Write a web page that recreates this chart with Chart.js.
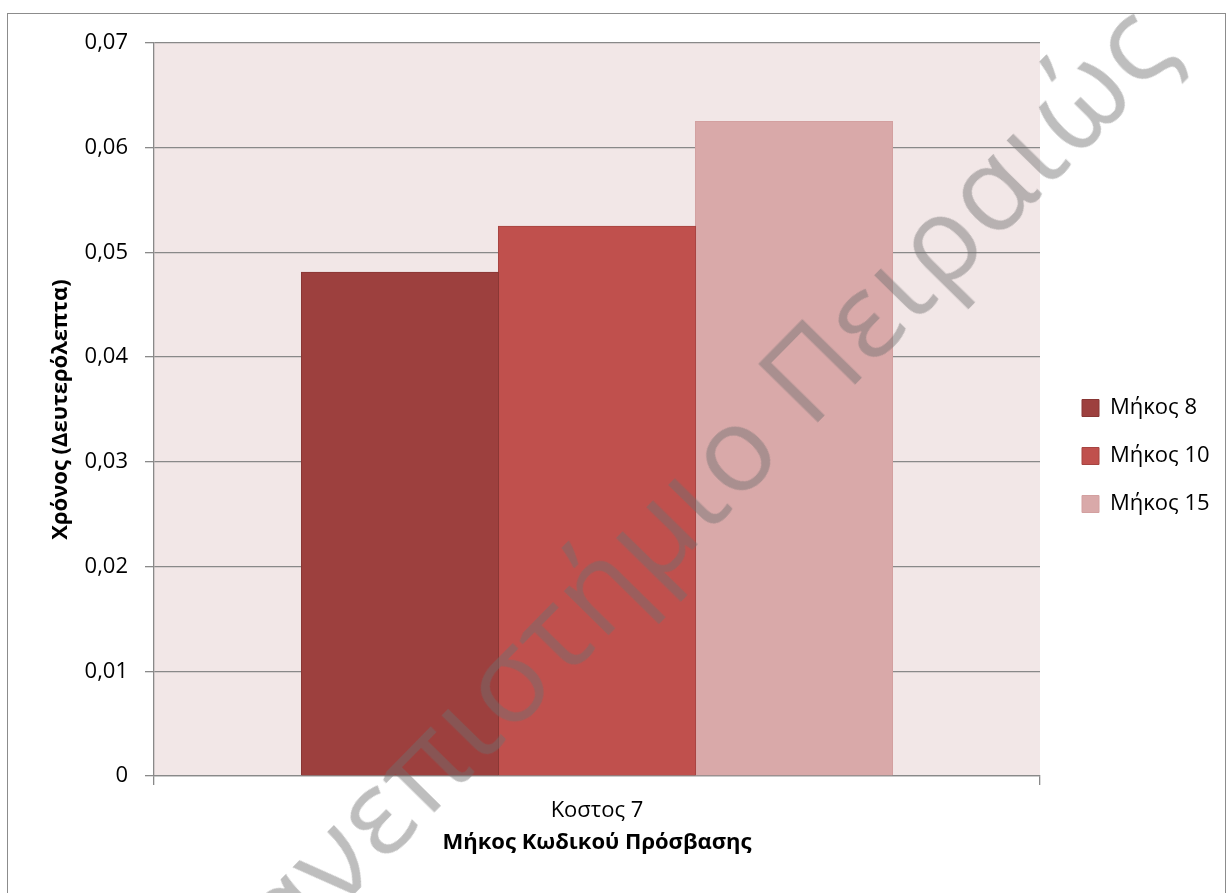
<!DOCTYPE html>
<html lang="el">
<head>
<meta charset="utf-8">
<title>Χρόνος ανά μήκος κωδικού</title>
<script src="https://cdn.jsdelivr.net/npm/chart.js@4.4.1/dist/chart.umd.min.js"></script>
<style>
    html, body { margin: 0; padding: 0; background: #fff; }
    body { width: 1227px; height: 893px; position: relative; overflow: hidden; }
    #frame {
        position: absolute; left: 7px; top: 13px; width: 1219px; height: 900px;
        border: 1.5px solid #8c8c8c; box-sizing: border-box;
    }
    #wrap { position: absolute; left: 0; top: 0; width: 1227px; height: 893px; }
    #mark {
        position: absolute; left: 670px; top: 508px;
        transform: translate(-50%, -50%) rotate(-45.5deg);
        font-family: 'Open Sans', sans-serif; font-size: 118px; letter-spacing: 2px; white-space: nowrap;
        color: rgba(110, 110, 110, 0.45); pointer-events: none;
    }
</style>
</head>
<body>
<div id="frame"></div>
<div id="wrap"><canvas id="chart" width="1227" height="893"></canvas></div>
<div id="mark">Πανεπιστήμιο Πειραιώς</div>

<script>
// data
const categories = ['Κοστος 7'];
const len8 = [0.0481];
const len10 = [0.0525];
const len15 = [0.0625];
const seriesNames = ['Μήκος 8', 'Μήκος 10', 'Μήκος 15'];
const yTicks = [0, 0.01, 0.02, 0.03, 0.04, 0.05, 0.06, 0.07];

const gridGray = '#898989';
const font = 'Open Sans';
const legendFontSize = 22;
const legendBox = 17;
const legendPad = 26;

// width the legend will ask for, so the plot ends where it should
const meas = document.createElement('canvas').getContext('2d');
meas.font = `${legendFontSize}px "${font}"`;
const longest = Math.max(...seriesNames.map(s => meas.measureText(s).width));
const legendWidth = legendPad + legendBox + legendFontSize / 2 + longest + 10;
const plotRight = 1040;
const padRight = Math.max(0, 1227 - plotRight - legendWidth);

// fill the plot area before the grid is drawn
const plotBackground = {
    id: 'plotBackground',
    beforeDraw(chart) {
        const { ctx, chartArea: a } = chart;
        ctx.save();
        ctx.fillStyle = '#f2e7e7';
        ctx.fillRect(a.left, a.top, a.right - a.left, a.bottom - a.top);
        ctx.restore();
    }
};

// move the legend a little away from the plot
const legendShift = {
    id: 'legendShift',
    afterLayout(chart) {
        const lg = chart.legend;
        lg.left += 16;
        lg.right += 16;
    }
};

const ctx = document.querySelector('#chart').getContext('2d');

new Chart(ctx, {
    type: 'bar',
    data: {
        labels: categories,
        datasets: [
            {
                label: seriesNames[0],
                data: len8,
                backgroundColor: '#9d403e',
                borderColor: '#883634',
                borderWidth: 1
            },
            {
                label: seriesNames[1],
                data: len10,
                backgroundColor: '#c0504d',
                borderColor: '#a64441',
                borderWidth: 1
            },
            {
                label: seriesNames[2],
                data: len15,
                backgroundColor: '#d9a9a9',
                borderColor: '#d3a0a0',
                borderWidth: 1
            }
        ]
    },
    options: {
        responsive: false,
        animation: false,
        layout: { padding: { left: 40, top: 43, right: padRight, bottom: 24 } },
        datasets: { bar: { categoryPercentage: 0.667, barPercentage: 1, inflateAmount: 0.6 } },
        plugins: {
            tooltip: { enabled: false },
            legend: {
                position: 'right',
                labels: {
                    color: '#000',
                    font: { family: font, size: legendFontSize },
                    boxWidth: legendBox,
                    boxHeight: legendBox,
                    padding: legendPad
                }
            }
        },
        scales: {
            x: {
                grid: { drawOnChartArea: false, tickLength: 9, color: gridGray, lineWidth: 1.3 },
                border: { color: gridGray, width: 1.3 },
                ticks: { color: '#000', padding: 13, font: { family: font, size: 22 } },
                title: {
                    display: true,
                    text: 'Μήκος Κωδικού Πρόσβασης',
                    color: '#000',
                    font: { family: font, size: 22, weight: 'bold' },
                    padding: { top: 0, bottom: 13 }
                },
                afterFit(scale) { scale.height = 93; }
            },
            y: {
                min: 0,
                max: 0.07,
                afterBuildTicks(scale) { scale.ticks = yTicks.map(v => ({ value: v })); },
                grid: { color: gridGray, lineWidth: 1.3, tickLength: 9 },
                border: { color: gridGray, width: 1.3 },
                ticks: {
                    color: '#000',
                    padding: 17,
                    font: { family: font, size: 22 },
                    callback: v => v === 0 ? '0' : v.toFixed(2).replace('.', ',')
                },
                title: {
                    display: true,
                    text: 'Χρόνος (Δευτερόλεπτα)',
                    color: '#000',
                    font: { family: font, size: 22, weight: 'bold' },
                    padding: { top: 8, bottom: 0 }
                },
                afterFit(scale) { scale.width = 114; }
            }
        }
    },
    plugins: [plotBackground, legendShift]
});
</script>
</body>
</html>
